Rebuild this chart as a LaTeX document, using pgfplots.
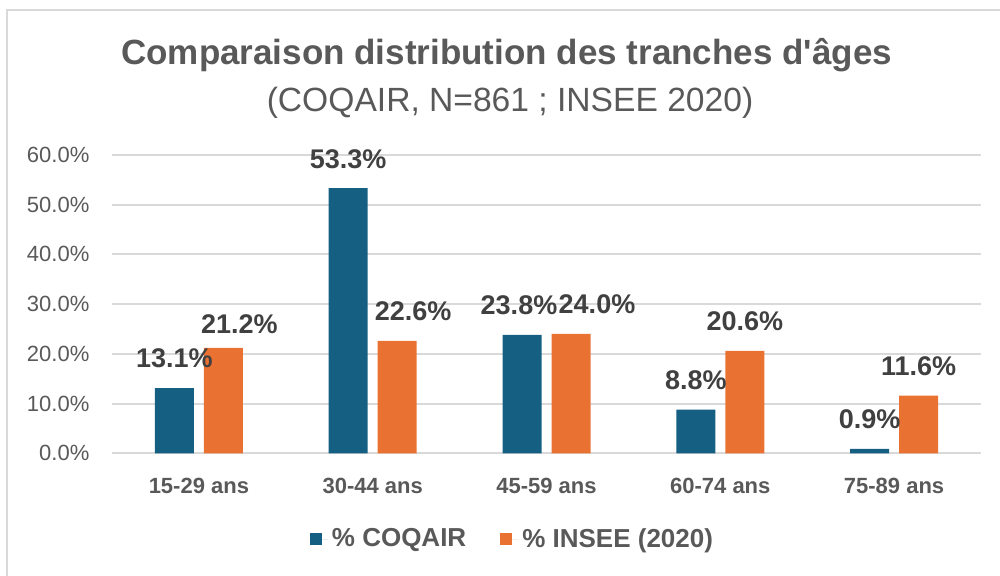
\documentclass[border=0pt]{standalone}
\usepackage{pgfplots}
\pgfplotsset{compat=1.18}
\usepackage{pgfplotstable}
\usepackage{fontspec}
\setmainfont{Liberation Sans}[Ligatures=TeXOff]
\definecolor{cblue}{HTML}{156082}
\definecolor{corange}{HTML}{E97132}
\definecolor{txt}{HTML}{595959}
\definecolor{lbl}{HTML}{404040}
\definecolor{gridc}{HTML}{D9D9D9}

\pgfplotstableread{
x y dx dy
0 13.1 0 0
1 53.3 0 0
2 23.8 -1.5 0
3 8.8 0 0
4 0.9 0 0
}\coqair
\pgfplotstableread{
x y dx dy
0 21.2 8 -3
1 22.6 8 0
2 24.0 13 0
3 20.6 0 0
4 11.6 0 0
}\insee

\begin{document}
\begin{tikzpicture}
\path[use as bounding box] (0,0) rectangle (500pt,288pt);
\draw[gridc, line width=1pt] (3.5pt,0) -- (3.5pt,283pt) -- (500pt,283pt);
\node[txt, anchor=base, font=\bfseries\fontsize{17.5}{20}\selectfont] at (253.3pt,255.5pt) {Comparaison distribution des tranches d'âges};
\node[txt, anchor=base, font=\fontsize{16.8}{19}\selectfont] at (255pt,232pt) {(COQAIR, N=861 ; INSEE 2020)};
\begin{axis}[
  at={(56pt,61.35pt)}, anchor=south west,
  scale only axis, width=434.5pt, height=149.2pt,
  ybar=5pt, bar width=19.5pt,
  xmin=-0.5, xmax=4.5, ymin=0, ymax=60,
  xtick={0,1,2,3,4},
  xticklabels={15-29 ans,30-44 ans,45-59 ans,60-74 ans,75-89 ans},
  ytick={0,10,20,30,40,50,60},
  yticklabel={\pgfmathprintnumber[fixed,fixed zerofill,precision=1]{\tick}\%},
  /pgf/number format/assume math mode=true,
  ymajorgrids, grid style={gridc, line width=1pt},
  axis line style={draw=none}, major tick length=0pt,
  tick label style={text=txt, font=\fontsize{11}{13}\selectfont},
  xticklabel style={font=\bfseries\fontsize{11}{13}\selectfont, yshift=-8.9pt},
  yticklabel style={xshift=-7.8pt},
  nodes near coords={\pgfmathprintnumber[fixed,fixed zerofill,precision=1]{\pgfplotspointmeta}\%},
  visualization depends on={\thisrow{dx}\as\dx},
  visualization depends on={\thisrow{dy}\as\dy},
  nodes near coords style={text=lbl, font=\bfseries\fontsize{13.5}{16}\selectfont, xshift=\dx pt, yshift=6.4pt+\dy pt},
  legend style={at={(0.462,-0.2876)}, anchor=center, draw=none, fill=none,
    legend columns=2, font=\bfseries\fontsize{13}{15}\selectfont, text=txt,
    /tikz/every even column/.append style={column sep=15pt}},
  legend image code/.code={\fill[#1] (0pt,-3pt) rectangle (6pt,3pt); \path (0pt,0pt) -- (9pt,0pt);},
]
\addplot[fill=cblue, draw=none] table[x=x,y=y]{\coqair};
\addplot[fill=corange, draw=none] table[x=x,y=y]{\insee};
\legend{\% COQAIR, \% INSEE (2020)}
\end{axis}
\end{tikzpicture}
\end{document}
